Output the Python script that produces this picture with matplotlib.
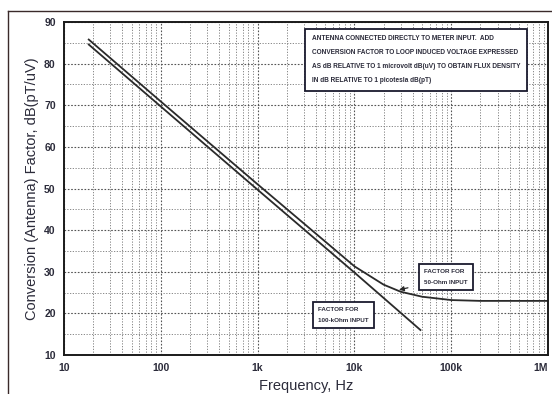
import matplotlib
matplotlib.use("Agg")
import matplotlib.pyplot as plt
from matplotlib.ticker import FixedLocator, NullFormatter
from matplotlib.lines import Line2D

plt.rcParams['font.family'] = ['Liberation Sans', 'DejaVu Sans']

# Conversion factor for a 100 kOhm meter input (straight -20 dB/decade)
freq_100k = [18, 100, 1000, 10000, 48000]
factor_100k = [84.6, 69.7, 49.7, 29.8, 16.0]

# Conversion factor for a 50 Ohm meter input (levels off at high frequency)
freq_50 = [18, 100, 1000, 10000, 20000, 30000, 50000, 100000, 200000, 1000000]
factor_50 = [85.8, 70.9, 51.0, 31.3, 26.9, 25.2, 24.0, 23.2, 23.0, 23.0]

x_ticks = [10, 100, 1000, 10000, 100000, 1000000]
x_labels = ['10', '100', '1k', '10k', '100k', '1M']
y_ticks = [10, 20, 30, 40, 50, 60, 70, 80, 90]

note_text = ("ANTENNA CONNECTED DIRECTLY TO METER INPUT.  ADD\n"
             "CONVERSION FACTOR TO LOOP INDUCED VOLTAGE EXPRESSED\n"
             "AS dB RELATIVE TO 1 microvolt dB(uV) TO OBTAIN FLUX DENSITY\n"
             "IN dB RELATIVE TO 1 picotesla dB(pT)")

text_col = '#2b2b3a'
line_col = '#2a2a2a'

fig = plt.figure(figsize=(5.52, 3.94), dpi=100)
fig.patch.set_facecolor('white')
ax = fig.add_axes([0.116, 0.099, 0.877, 0.845])

ax.set_xscale('log')
ax.set_xlim(10, 1e6)
ax.set_ylim(10, 90)

# grid: decades and every 10 dB, plus 2..9 per decade and 5 dB minors
minor_x = [m * 10 ** d for d in range(1, 6) for m in range(2, 10)]
ax.xaxis.set_major_locator(FixedLocator(x_ticks))
ax.xaxis.set_minor_locator(FixedLocator(minor_x))
ax.xaxis.set_minor_formatter(NullFormatter())
ax.set_xticklabels(x_labels)
ax.yaxis.set_major_locator(FixedLocator(y_ticks))
ax.yaxis.set_minor_locator(FixedLocator([15, 25, 35, 45, 55, 65, 75, 85]))

ax.grid(which='major', color='#555555', linestyle=(0, (1.5, 1.5)), linewidth=0.8)
ax.grid(which='minor', color='#777777', linestyle=(0, (1.5, 1.8)), linewidth=0.6)
ax.tick_params(which='both', direction='in', length=0, labelsize=7.5,
               labelcolor=text_col, pad=6)
for lab in ax.get_xticklabels() + ax.get_yticklabels():
    lab.set_fontweight('bold')
# keep the last frequency label inside the figure
ax.get_xticklabels()[-1].set_horizontalalignment('right')

for s in ax.spines.values():
    s.set_color('#1a1a1a')
    s.set_linewidth(1.4)

ax.plot(freq_100k, factor_100k, color=line_col, linewidth=1.3)
ax.plot(freq_50, factor_50, color=line_col, linewidth=1.3)

ax.set_xlabel('Frequency, Hz', fontsize=10.5, color=text_col, labelpad=4)
ax.set_ylabel('Conversion (Antenna) Factor, dB(pT/uV)', fontsize=10.5,
              color=text_col, labelpad=4)

box_style = dict(boxstyle='square,pad=0.8', facecolor='white',
                 edgecolor='#1a1a2e', linewidth=1.3)

ax.text(0.512, 0.887, note_text, transform=ax.transAxes, fontsize=4.7,
        fontweight='bold', color=text_col, ha='left', va='center',
        linespacing=2.4, bbox=dict(boxstyle='square,pad=1.0', facecolor='white',
                                   edgecolor='#1a1a2e', linewidth=1.3))

ax.text(0.744, 0.234, 'FACTOR FOR\n50-Ohm INPUT', transform=ax.transAxes,
        fontsize=4.5, fontweight='bold', color=text_col, ha='left', va='center',
        linespacing=2.3, bbox=box_style)
ax.text(0.525, 0.12, 'FACTOR FOR\n100-kOhm INPUT', transform=ax.transAxes,
        fontsize=4.5, fontweight='bold', color=text_col, ha='left', va='center',
        linespacing=2.3, bbox=box_style)

# pointer from the 50 Ohm label to its curve
ax.annotate('', xy=(27000, 25.5), xytext=(38000, 26.3),
            arrowprops=dict(arrowstyle='-|>', color=line_col, lw=0.9,
                            mutation_scale=7))

# outer frame around the figure
fig.add_artist(Line2D([8 / 552, 8 / 552], [0.0, 1 - 11 / 394],
                      transform=fig.transFigure, color='#3a2a2a', linewidth=1.0))
fig.add_artist(Line2D([8 / 552, 1.0], [1 - 11 / 394, 1 - 11 / 394],
                      transform=fig.transFigure, color='#3a2a2a', linewidth=1.0))

fig.savefig('out.png', dpi=100)
